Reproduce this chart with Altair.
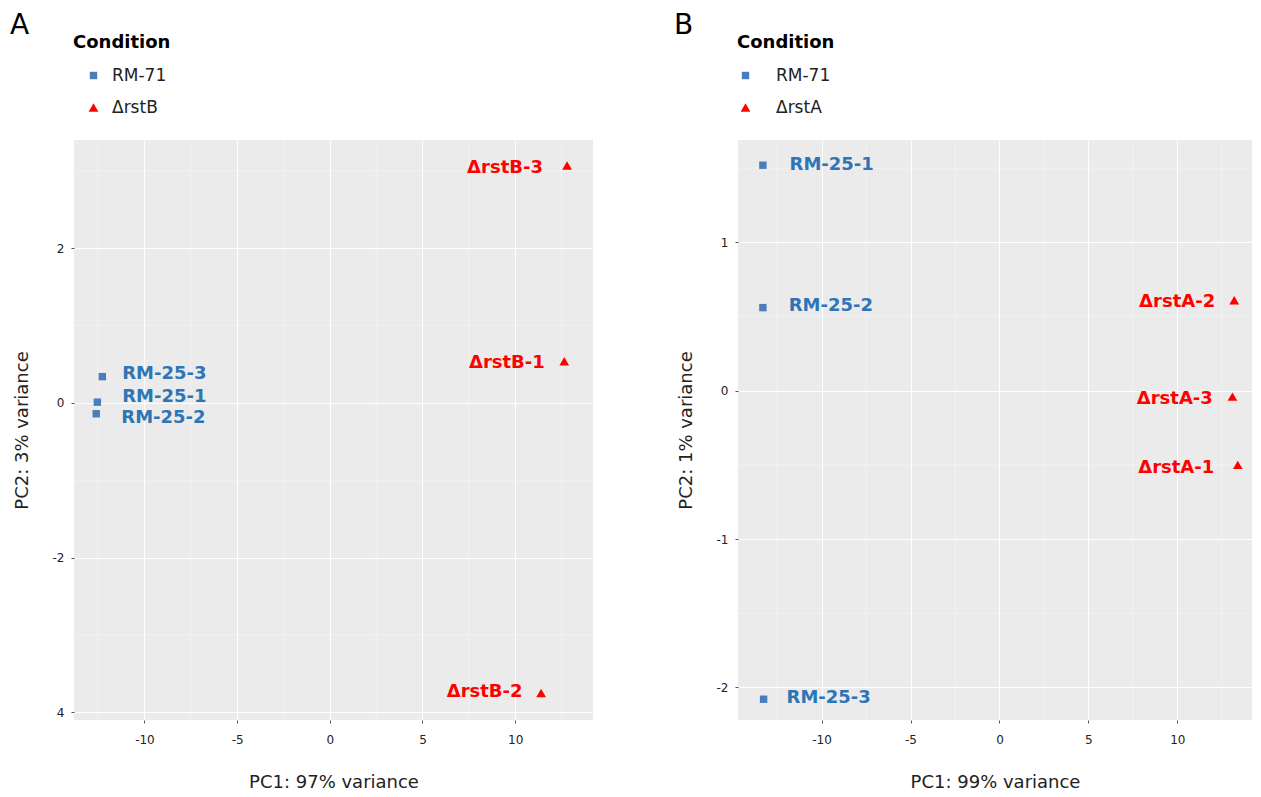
import altair as alt
import pandas as pd

FONT = "DejaVu Sans"
BLUE_PT = "#4a7ebb"
BLUE_TX = "#2e75b6"
RED = "#ff0000"

# ---- Panel A data ----
cond_a = ["RM-71", "RM-71", "RM-71", "ΔrstB", "ΔrstB", "ΔrstB"]
name_a = ["RM-25-3", "RM-25-1", "RM-25-2", "ΔrstB-3", "ΔrstB-1", "ΔrstB-2"]
pc1_a = [-12.27, -12.54, -12.60, 12.80, 12.65, 11.40]
pc2_a = [0.34, 0.01, -0.14, 3.07, 0.54, -3.75]
labx_a = [-11.2, -11.2, -11.25, 11.5, 11.6, 10.4]
laby_a = [0.375, 0.08, -0.19, 3.04, 0.52, -3.74]

# ---- Panel B data ----
cond_b = ["RM-71", "RM-71", "RM-71", "ΔrstA", "ΔrstA", "ΔrstA"]
name_b = ["RM-25-1", "RM-25-2", "RM-25-3", "ΔrstA-2", "ΔrstA-3", "ΔrstA-1"]
pc1_b = [-13.30, -13.30, -13.26, 13.20, 13.10, 13.40]
pc2_b = [1.52, 0.56, -2.08, 0.61, -0.04, -0.50]
labx_b = [-11.8, -11.85, -11.97, 12.13, 12.0, 12.08]
laby_b = [1.52, 0.57, -2.07, 0.60, -0.054, -0.52]

# axis ticks / grid positions
xticks = [-10, -5, 0, 5, 10]
xminor_a = [-12.5, -7.5, -2.5, 2.5, 7.5, 12.5]
yticks_a = [-4, -2, 0, 2]
yminor_a = [-3, -1, 1, 3]
xminor_b = [-12.5, -7.5, -2.5, 2.5, 7.5, 12.5]
yticks_b = [-2, -1, 0, 1]
yminor_b = [-1.5, -0.5, 0.5, 1.5]

HYPHEN = "replace(datum.label, '\u2212', '-')"


def panel(cond, name, pc1, pc2, labx, laby, other, xdom, ydom, xminor, yticks,
          yminor, ylabel_expr, xtitle, ytitle, letter, sym_off, lab_off, w, h):
    df = pd.DataFrame({"cond": cond, "name": name, "pc1": pc1, "pc2": pc2,
                       "lx": labx, "ly": laby})
    xs = alt.Scale(domain=xdom, nice=False, zero=False)
    ys = alt.Scale(domain=ydom, nice=False, zero=False)
    xax = alt.Axis(values=xticks, title=xtitle, titlePadding=28, labelPadding=11,
                   labelExpr=HYPHEN)
    yax = alt.Axis(values=yticks, title=ytitle, labelExpr=ylabel_expr,
                   titlePadding=21, labelPadding=7)

    gx = alt.Chart(pd.DataFrame({"v": xminor})).mark_rule(
        color="white", strokeWidth=0.6, opacity=0.6
    ).encode(x=alt.X("v:Q", scale=xs, axis=xax))
    gy = alt.Chart(pd.DataFrame({"v": yminor})).mark_rule(
        color="white", strokeWidth=0.6, opacity=0.6
    ).encode(y=alt.Y("v:Q", scale=ys, axis=yax))

    leg = alt.Legend(
        title="Condition", orient="none", legendX=-1, legendY=-106,
        titleFont=FONT, titleFontSize=18, titleFontWeight="bold",
        titleColor="black", titlePadding=15,
        labelFont=FONT, labelFontSize=17, labelColor="#222222",
        labelOffset=lab_off, symbolOffset=sym_off, symbolSize=90,
        symbolStrokeWidth=0, rowPadding=14,
    )
    dom = ["RM-71", other]
    pts = alt.Chart(df).mark_point(filled=True, opacity=1).encode(
        x=alt.X("pc1:Q", scale=xs, axis=xax),
        y=alt.Y("pc2:Q", scale=ys, axis=yax),
        color=alt.Color("cond:N", scale=alt.Scale(domain=dom, range=[BLUE_PT, RED]),
                        legend=leg),
        shape=alt.Shape("cond:N", scale=alt.Scale(domain=dom, range=["square", "triangle-up"]),
                        legend=leg),
        size=alt.Size("cond:N", scale=alt.Scale(domain=dom, range=[55, 95]), legend=None),
    )
    txt_blue = alt.Chart(df).transform_filter(alt.datum.cond == "RM-71").mark_text(
        align="left", baseline="middle", font=FONT, fontSize=18, fontWeight="bold",
        color=BLUE_TX
    ).encode(x=alt.X("lx:Q", scale=xs, axis=xax), y=alt.Y("ly:Q", scale=ys, axis=yax),
             text="name:N")
    txt_red = alt.Chart(df).transform_filter(alt.datum.cond != "RM-71").mark_text(
        align="right", baseline="middle", font=FONT, fontSize=18, fontWeight="bold",
        color=RED
    ).encode(x=alt.X("lx:Q", scale=xs, axis=xax), y=alt.Y("ly:Q", scale=ys, axis=yax),
             text="name:N")
    let = alt.Chart(pd.DataFrame({"t": [letter]})).mark_text(
        align="left", baseline="alphabetic", font=FONT, fontSize=28, color="black"
    ).encode(text="t:N", x=alt.value(-64), y=alt.value(-106))

    return alt.layer(gx, gy, pts, txt_blue, txt_red, let).properties(width=w, height=h)


pa = panel(cond_a, name_a, pc1_a, pc2_a, labx_a, laby_a, "ΔrstB",
           [-13.8, 14.2], [-4.1, 3.4], xminor_a, yticks_a, yminor_a,
           "datum.value == -4 ? '4' : " + HYPHEN,
           "PC1: 97% variance", "PC2: 3% variance", "A", 12, 10, 519, 580)
pb = panel(cond_b, name_b, pc1_b, pc2_b, labx_b, laby_b, "ΔrstA",
           [-14.7, 14.2], [-2.22, 1.69], xminor_b, yticks_b, yminor_b,
           HYPHEN,
           "PC1: 99% variance", "PC2: 1% variance", "B", 0, 22, 514, 580)

chart = alt.hconcat(pa, pb, spacing=80).resolve_scale(
    x="independent", y="independent", color="independent", shape="independent",
    size="independent"
).resolve_legend(color="independent", shape="independent").properties(
    padding={"left": 2, "top": 4, "right": 0, "bottom": 0}
).configure_view(fill="#ebebeb", stroke=None).configure_axis(
    labelFont=FONT, labelFontSize=12, labelColor="#222222",
    titleFont=FONT, titleFontSize=18, titleFontWeight="normal", titleColor="#222222",
    gridColor="white", gridWidth=1, domain=False,
    tickColor="#555555", tickSize=3,
)

chart.save("out.html", embed_options={"renderer": "svg", "actions": False})
